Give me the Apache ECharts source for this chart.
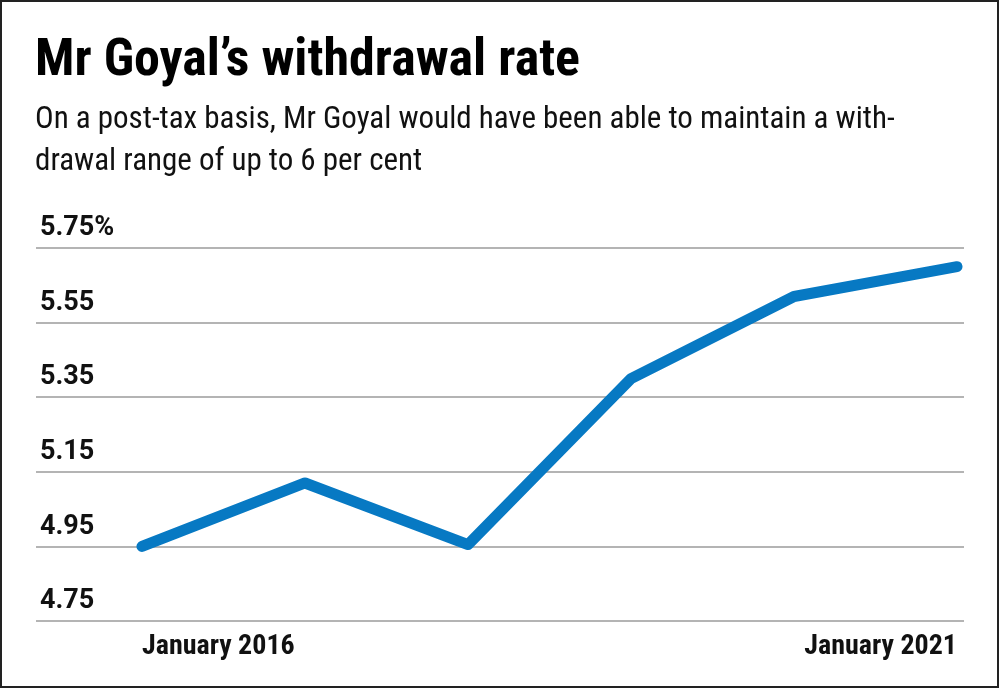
<!DOCTYPE html>
<html><head><meta charset="utf-8">
<script src="https://cdn.jsdelivr.net/npm/echarts@6/dist/echarts.min.js"></script>
<style>html,body{margin:0;padding:0;background:#fff}#c{width:1000px;height:690px}</style>
</head><body><div id="c"></div>
<script>
var titleText = 'Mr Goyal\u2019s withdrawal rate';
var subtitleText = 'On a post-tax basis, Mr Goyal would have been able to maintain a with-\ndrawal range of up to 6 per cent';
var categories = ['January 2016','January 2017','January 2018','January 2019','January 2020','January 2021'];
var rates = [4.95, 5.12, 4.955, 5.40, 5.62, 5.70];
var tickValues = [4.75, 4.95, 5.15, 5.35, 5.55, 5.75];

var chart = echarts.init(document.getElementById('c'));
chart.setOption({
  animation:false,
  title:{text:titleText,subtext:subtitleText,left:30,top:31,itemGap:11,
    textStyle:{fontFamily:"'Roboto Condensed', sans-serif",fontWeight:'bold',fontSize:52,color:'#000'},
    subtextStyle:{fontFamily:"'Roboto Condensed', sans-serif",fontWeight:'normal',fontSize:31,lineHeight:42,color:'#111'}},
  graphic:[{type:'rect',shape:{x:1,y:1,width:997,height:686},style:{fill:'none',stroke:'#222',lineWidth:2},silent:true}],
  grid:[{left:142,right:43,top:248,bottom:69},{left:36,right:36,top:248,bottom:69}],
  xAxis:[{type:'category',gridIndex:0,data:categories,boundaryGap:false,axisLine:{show:false},axisTick:{show:false},
    axisLabel:{interval:function(i){return i===0||i===categories.length-1;},alignMinLabel:'left',alignMaxLabel:'right',margin:12,
      fontFamily:"'Roboto Condensed', sans-serif",fontWeight:'bold',fontSize:28,color:'#111'}},
    {type:'category',gridIndex:1,data:categories,show:false}],
  yAxis:[{type:'value',gridIndex:0,min:4.75,max:5.75,show:false},
    {type:'value',gridIndex:1,min:4.75,max:5.75,axisLine:{show:false},
     axisTick:{show:false,customValues:tickValues},
     splitLine:{show:true,lineStyle:{color:'#b4b4b4',width:2}},
     axisLabel:{customValues:tickValues,inside:true,margin:4,verticalAlign:'bottom',padding:[0,0,6,0],
       formatter:function(v){return v>=5.75?v.toFixed(2)+'%':v.toFixed(2);},
       fontFamily:'Roboto',fontWeight:'bold',fontSize:27,color:'#111'}}],
  series:[{type:'line',xAxisIndex:0,yAxisIndex:0,data:rates,symbol:'none',
    lineStyle:{color:'#0779c3',width:11,cap:'round',join:'round'}}]
});
</script></body></html>
